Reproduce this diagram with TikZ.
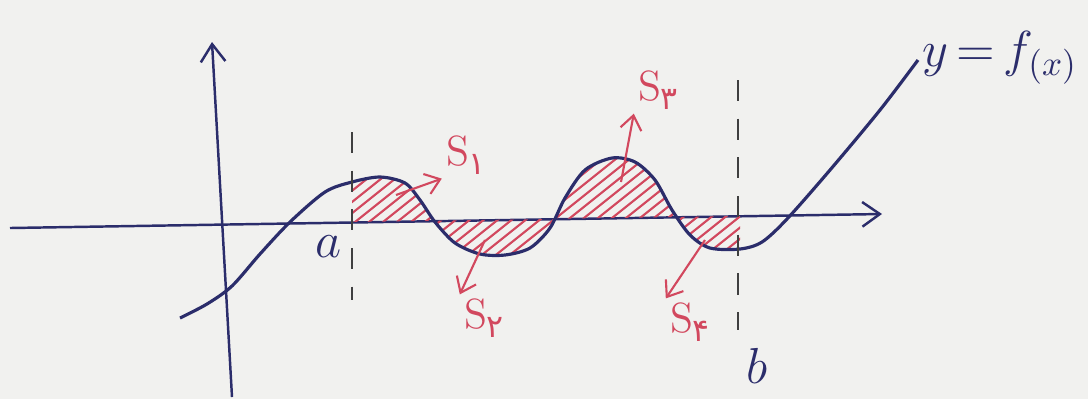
\documentclass[tikz,border=0pt]{standalone}
\usepackage{fontspec}
\newfontfamily\fafont[Script=Arabic]{DejaVu Sans}
\usetikzlibrary{arrows.meta}
\definecolor{ink}{HTML}{2B2D6B}
\definecolor{redink}{HTML}{D2485E}
\definecolor{paper}{HTML}{F1F1EF}

\begin{document}
\begin{tikzpicture}[x=0.01cm,y=-0.01cm]
    \tikzstyle{every node}=[inner sep=1pt];
    \tikzstyle{axis}=[draw=ink,line width=0.7pt,-{Straight Barb[length=5pt,width=7pt]}];
    \tikzstyle{curve}=[draw=ink,line width=0.9pt];
    \tikzstyle{bound}=[draw=black!75,line width=0.7pt,dash pattern=on 6pt off 5pt];
    \tikzstyle{hatch}=[draw=redink,line width=0.6pt];
    \tikzstyle{pointer}=[draw=redink,line width=0.6pt,-{Straight Barb[length=4pt,width=6pt]}];
    \tikzstyle{area}=[text=redink,font=\large];

    \useasboundingbox (0,0) rectangle (1088,399);
    \fill[paper] (0,0) rectangle (1088,399);

    % axes
    \coordinate (xl) at (10,228);
    \coordinate (xr) at (882,214);
    \coordinate (yb) at (232,397);
    \coordinate (yt) at (212,42);
    \draw[axis] (xl) -- (xr);
    \draw[axis] (yb) -- (yt);

    % hatched areas between curve and axis
    \begin{scope}
        \clip plot[smooth] coordinates {(352,182) (380,177) (405,183) (420,200)
            (435,222) (455,243) (480,254) (505,255) (530,248) (550,228) (565,198)
            (585,170) (612,158) (635,162) (655,180) (672,210) (690,235) (710,248)
            (740,249)} -- (740,216) -- (352,222) -- cycle;
        \foreach \k in {200,214,...,760}
            \draw[hatch] (\k,290) -- ++(170,-136);
    \end{scope}

    % the function
    \draw[curve] plot[smooth] coordinates {(180,318) (207,304) (232,286) (260,254)
        (290,222) (325,192) (352,182) (380,177) (405,183) (420,200) (435,222)
        (455,243) (480,254) (505,255) (530,248) (550,228) (565,198) (585,170)
        (612,158) (635,162) (655,180) (672,210) (690,235) (710,248) (740,249)
        (762,242) (787,219) (830,170) (880,110) (918,60)};

    % bounds
    \coordinate (at) at (352,132);
    \coordinate (ab) at (352,300);
    \coordinate (bt) at (738,80);
    \coordinate (bb) at (738,330);
    \draw[bound] (at) -- (ab);
    \draw[bound] (bt) -- (bb);
    \node at (329,247) (a) [font=\Large,text=ink] {$a$};
    \node at (757,366) (b) [font=\Large,text=ink] {$b$};

    % labels of the areas
    \node at (466,155) (s1) [area] {S\raisebox{-0.5ex}{\fafont\small ۱}};
    \node at (484,318) (s2) [area] {S\raisebox{-0.5ex}{\fafont\small ۲}};
    \node at (658,90)  (s3) [area] {S\raisebox{-0.5ex}{\fafont\small ۳}};
    \node at (690,322) (s4) [area] {S\raisebox{-0.5ex}{\fafont\small ۴}};

    \coordinate (p1) at (396,195);
    \coordinate (p2) at (485,240);
    \coordinate (p3) at (621,182);
    \coordinate (p4) at (705,240);
    \draw[pointer] (p1) -- (s1.south west);
    \draw[pointer] (p2) -- (s2.north west);
    \draw[pointer] (p3) -- (s3.south west);
    \draw[pointer] (p4) -- (s4.north west);

    \node at (1000,58) (f) [font=\Large,text=ink] {$y\,{=}\,f_{(x)}$};
\end{tikzpicture}
\end{document}
